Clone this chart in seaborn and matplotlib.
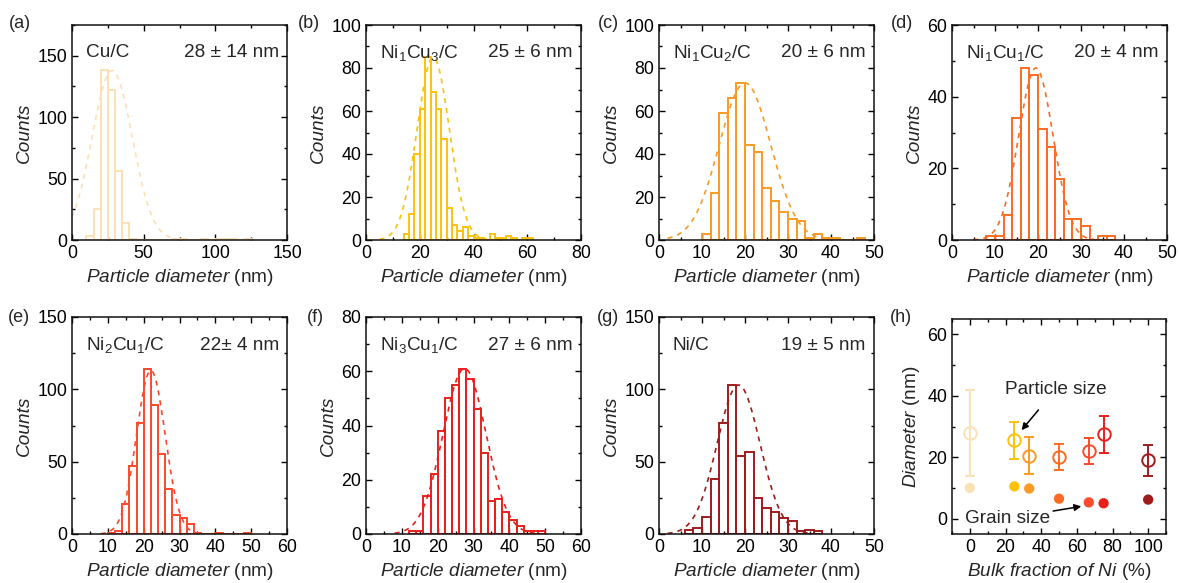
import numpy as np
import pandas as pd
import matplotlib
matplotlib.use("Agg")
import matplotlib.pyplot as plt
import seaborn as sns
from matplotlib.ticker import AutoMinorLocator, MultipleLocator

sns.set_style("ticks")
plt.rcParams['font.family'] = ['Liberation Sans', 'DejaVu Sans']
plt.rcParams['mathtext.fontset'] = 'custom'
plt.rcParams['mathtext.rm'] = 'Liberation Sans'
plt.rcParams['mathtext.it'] = 'Liberation Sans:italic'
plt.rcParams['font.size'] = 12

# ---------------- data ----------------
panel_tags = ["(a)", "(b)", "(c)", "(d)", "(e)", "(f)", "(g)"]
sample_names = ["Cu/C", "Ni$_1$Cu$_3$/C", "Ni$_1$Cu$_2$/C", "Ni$_1$Cu$_1$/C",
                "Ni$_2$Cu$_1$/C", "Ni$_3$Cu$_1$/C", "Ni/C"]
size_texts = ["28 ± 14 nm", "25 ± 6 nm", "20 ± 6 nm", "20 ± 4 nm",
              "22± 4 nm", "27 ± 6 nm", "19 ± 5 nm"]
colors = ["#FCE1B6", "#FDC20A", "#FB9A25", "#FB6B22", "#FB4A2C", "#E8201B", "#9E1C1C"]

bin_width = [5, 2, 2, 2, 2, 2, 2]
bin_start = [10, 14, 10, 8, 10, 12, 6]
counts_a = [3, 25, 138, 122, 56, 14, 1, 0, 0, 0, 0, 0, 1, 1, 0, 0, 1, 0, 1, 1, 1, 0, 1]
counts_b = [3, 12, 40, 61, 85, 69, 61, 47, 15, 7, 4, 6, 2, 1, 1, 0, 3, 1, 1, 2, 1, 0, 1, 1]
counts_c = [3, 22, 59, 66, 73, 44, 41, 24, 18, 13, 10, 9, 1, 3, 1, 1, 0, 0, 1]
counts_d = [1, 1, 7, 34, 48, 46, 31, 26, 17, 6, 6, 4, 0, 1, 1]
counts_e = [1, 2, 21, 47, 77, 114, 89, 55, 31, 13, 11, 7, 1, 0, 0, 1, 0, 0, 0, 1]
counts_f = [1, 1, 14, 22, 38, 50, 55, 61, 57, 46, 30, 12, 13, 8, 5, 3, 1, 1, 1]
counts_g = [3, 4, 12, 38, 77, 103, 54, 57, 25, 18, 15, 11, 9, 2, 3, 2]
all_counts = [counts_a, counts_b, counts_c, counts_d, counts_e, counts_f, counts_g]

fit_mean = [28, 25, 20, 19.5, 22, 27.5, 18.5]
fit_sd = [14, 6, 6, 4, 4, 6, 5]
fit_peak = [138, 85, 73, 48, 113, 61, 103]
fit_range = [(0, 125), (5, 45), (2, 38), (5, 33), (8, 36), (8, 48), (2, 35)]

x_max = [150, 80, 50, 50, 60, 60, 50]
x_step = [50, 20, 10, 10, 10, 10, 10]
y_max = [175, 100, 100, 60, 150, 80, 150]
y_step = [50, 20, 20, 20, 50, 20, 50]

# panel h
ni_fraction = [0, 25, 33.3, 50, 66.7, 75, 100]
particle_size = [28, 25.5, 20.5, 20, 22, 27.5, 19]
particle_err = [14, 6, 6, 4.3, 4.3, 6, 5]
grain_size = [10, 10.5, 9.8, 6.5, 5.3, 5, 6.2]

# ---------------- layout ----------------
W, H = 1179, 583
fig = plt.figure(figsize=(W / 100, H / 100), dpi=100)
lefts = [72, 366, 659, 952]
width = 215
rows = [(25, 240), (317, 534)]
FS = 13.7

def px_axes(left, top, bottom, w=width):
    return fig.add_axes([left / W, 1 - bottom / H, w / W, (bottom - top) / H])

def style_axes(ax):
    ax.tick_params(which='both', direction='in', top=True, right=True, labelsize=12.8,
                   colors='black')
    ax.tick_params(which='major', length=4, width=1)
    ax.tick_params(which='minor', length=2.5, width=1)
    for s in ax.spines.values():
        s.set_linewidth(1.1)
        s.set_color('#111111')
        s.set_visible(True)

for i in range(7):
    r, c = divmod(i, 4)
    top, bottom = rows[r]
    ax = px_axes(lefts[c], top, bottom)
    cnt = all_counts[i]
    edges = [bin_start[i] + bin_width[i] * k for k in range(len(cnt) + 1)]
    centers = [e + bin_width[i] / 2 for e in edges[:-1]]
    df = pd.DataFrame({"d": centers, "n": cnt})
    sns.histplot(data=df, x="d", weights="n", bins=edges, fill=False,
                 element="bars", color=colors[i], linewidth=1.4, ax=ax)
    xf = np.linspace(fit_range[i][0], fit_range[i][1], 300)
    yf = fit_peak[i] * np.exp(-(xf - fit_mean[i]) ** 2 / (2 * fit_sd[i] ** 2))
    sns.lineplot(x=xf, y=yf, color=colors[i], linestyle=(0, (3, 3)), linewidth=1.2, ax=ax)
    ax.set_xlim(0, x_max[i])
    ax.set_ylim(0, y_max[i])
    ax.xaxis.set_major_locator(MultipleLocator(x_step[i]))
    ax.yaxis.set_major_locator(MultipleLocator(y_step[i]))
    ax.xaxis.set_minor_locator(AutoMinorLocator(2))
    ax.yaxis.set_minor_locator(AutoMinorLocator(2))
    style_axes(ax)
    ax.set_xlabel("$\\it{Particle\\ diameter}$ (nm)", fontsize=FS, labelpad=4)
    ax.set_ylabel("Counts", fontsize=FS, style='italic', labelpad=3)
    ax.text(0.065, 0.87, sample_names[i], transform=ax.transAxes, fontsize=FS,
            ha='left', va='center')
    ax.text(0.962, 0.87, size_texts[i], transform=ax.transAxes, fontsize=FS,
            ha='right', va='center')

tag_x = [20, 309, 608, 902, 19, 315, 608, 901]
tag_y = [24, 24, 24, 24, 317, 317, 317, 317]
for t, xx, yy in zip(panel_tags + ["(h)"], tag_x, tag_y):
    fig.text(xx / W, 1 - yy / H, t, fontsize=13, ha='center', va='center')

# ---------------- panel h ----------------
axh = px_axes(952, 319, 534, w=214)
for xv, yv, ev, col in zip(ni_fraction, particle_size, particle_err, colors):
    axh.errorbar(xv, yv, yerr=ev, fmt='o', mfc='none', mec=col, ecolor=col,
                 ms=9, mew=1.4, elinewidth=1.4, capsize=3.5, capthick=1.4)
dfg = pd.DataFrame({"x": ni_fraction, "y": grain_size, "s": panel_tags})
sns.scatterplot(data=dfg, x="x", y="y", hue="s", palette=colors, s=55,
                edgecolor='none', legend=False, ax=axh)
axh.set_xlim(-10, 110)
axh.set_ylim(-5, 65)
axh.xaxis.set_major_locator(MultipleLocator(20))
axh.yaxis.set_major_locator(MultipleLocator(20))
axh.xaxis.set_minor_locator(AutoMinorLocator(2))
axh.yaxis.set_minor_locator(AutoMinorLocator(2))
style_axes(axh)
axh.set_xlabel("$\\it{Bulk\\ fraction\\ of\\ Ni}$ (%)", fontsize=FS, labelpad=4)
axh.set_ylabel("$\\it{Diameter}$ (nm)", fontsize=FS, labelpad=4)
axh.annotate("Particle size", xy=(29, 28.8), xytext=(48, 42), fontsize=FS,
             ha='center', va='center',
             arrowprops=dict(arrowstyle='-|>', color='black', lw=1.1,
                             shrinkA=8, shrinkB=0, mutation_scale=10))
axh.annotate("Grain size", xy=(62.5, 4), xytext=(21, 0), fontsize=FS,
             ha='center', va='center',
             arrowprops=dict(arrowstyle='-|>', color='black', lw=1.1,
                             shrinkA=32, shrinkB=0, mutation_scale=10))

fig.savefig("out.png", dpi=100)
